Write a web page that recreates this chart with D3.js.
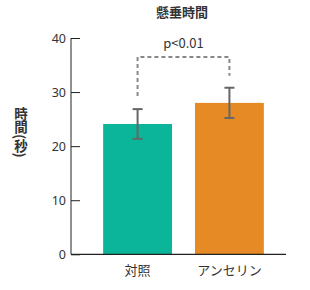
<!DOCTYPE html>
<html><head><meta charset="utf-8">
<script src="https://cdn.jsdelivr.net/npm/d3@7"></script>
<style>
html,body{margin:0;padding:0;background:#fff;}
text{font-family:"Noto Sans CJK JP","Noto Sans",sans-serif;fill:#333;}
</style></head>
<body><svg id="c" width="310" height="290"></svg>
<script>
const categories = ["対照", "アンセリン"];
const means = [24.1, 28.0];
const errors = [2.75, 2.8];
const colors = ["#0bb59a", "#e68a26"];
const yTicks = [0, 10, 20, 30, 40];
const title = "懸垂時間";
const yLabel = "時間(秒)";
const sigLabel = "p<0.01";
const bracketValue = 36.5;

const svg = d3.select("#c");
const x = d3.scaleBand().domain(categories).range([71, 296]).paddingInner(0.25).paddingOuter(0.35);
const y = d3.scaleLinear().domain([0, 40]).range([254.3, 38]);

// bars
svg.selectAll("rect.bar").data(categories).enter().append("rect")
  .attr("x", d => x(d)).attr("width", x.bandwidth())
  .attr("y", (d, i) => y(means[i])).attr("height", (d, i) => y(0) - y(means[i]))
  .attr("fill", (d, i) => colors[i]);

// error bars
const cx = d => x(d) + x.bandwidth() / 2;
const eg = svg.append("g").attr("stroke", "#666").attr("stroke-width", 2);
categories.forEach((d, i) => {
  const t = y(means[i] + errors[i]), b = y(means[i] - errors[i]);
  eg.append("line").attr("x1", cx(d)).attr("x2", cx(d)).attr("y1", t).attr("y2", b);
  eg.append("line").attr("x1", cx(d) - 5).attr("x2", cx(d) + 5).attr("y1", t).attr("y2", t);
  eg.append("line").attr("x1", cx(d) - 5).attr("x2", cx(d) + 5).attr("y1", b).attr("y2", b);
});

// bracket
const by = y(bracketValue);
const t0 = y(means[0] + errors[0]) - 13, t1 = y(means[1] + errors[1]) - 12;
svg.append("path")
  .attr("d", `M${cx(categories[0])},${t0}V${by}H${cx(categories[1])}V${t1}`)
  .attr("fill", "none").attr("stroke", "#888").attr("stroke-width", 2).attr("stroke-dasharray", "4,3");
svg.append("text").attr("x", (cx(categories[0]) + cx(categories[1])) / 2).attr("y", 48)
  .attr("text-anchor", "middle").attr("font-size", 13).text(sigLabel);

// y axis
const ya = svg.append("g").attr("transform", "translate(71,0)")
  .call(d3.axisRight(y).tickValues(yTicks).tickSize(9).tickPadding(-23));
ya.select(".domain").attr("stroke", "#222").attr("d", `M0,${y(0)}V${y(40)}`);
ya.selectAll(".tick line").attr("stroke", "#222");
ya.selectAll(".tick text").attr("text-anchor", "end").attr("x", -5).attr("font-size", 12.5)
  .style("font-family", '"Noto Sans","DejaVu Sans",sans-serif').attr("fill", "#333");

// x axis
svg.append("line").attr("x1", 71).attr("x2", 286).attr("y1", y(0)).attr("y2", y(0))
  .attr("stroke", "#222").attr("stroke-width", 1.3);
svg.selectAll("text.xl").data(categories).enter().append("text")
  .attr("x", d => cx(d)).attr("y", 275).attr("text-anchor", "middle").attr("font-size", 13).text(d => d);

// title
svg.append("text").attr("x", 182).attr("y", 17).attr("text-anchor", "middle")
  .attr("font-size", 13).attr("font-weight", "bold").text(title);

// y label vertical
svg.append("text").attr("x", 21).attr("y", 107).attr("font-size", 13.5).attr("font-weight", "bold")
  .style("writing-mode", "vertical-rl").style("text-orientation", "mixed").text(yLabel);
</script></body></html>
